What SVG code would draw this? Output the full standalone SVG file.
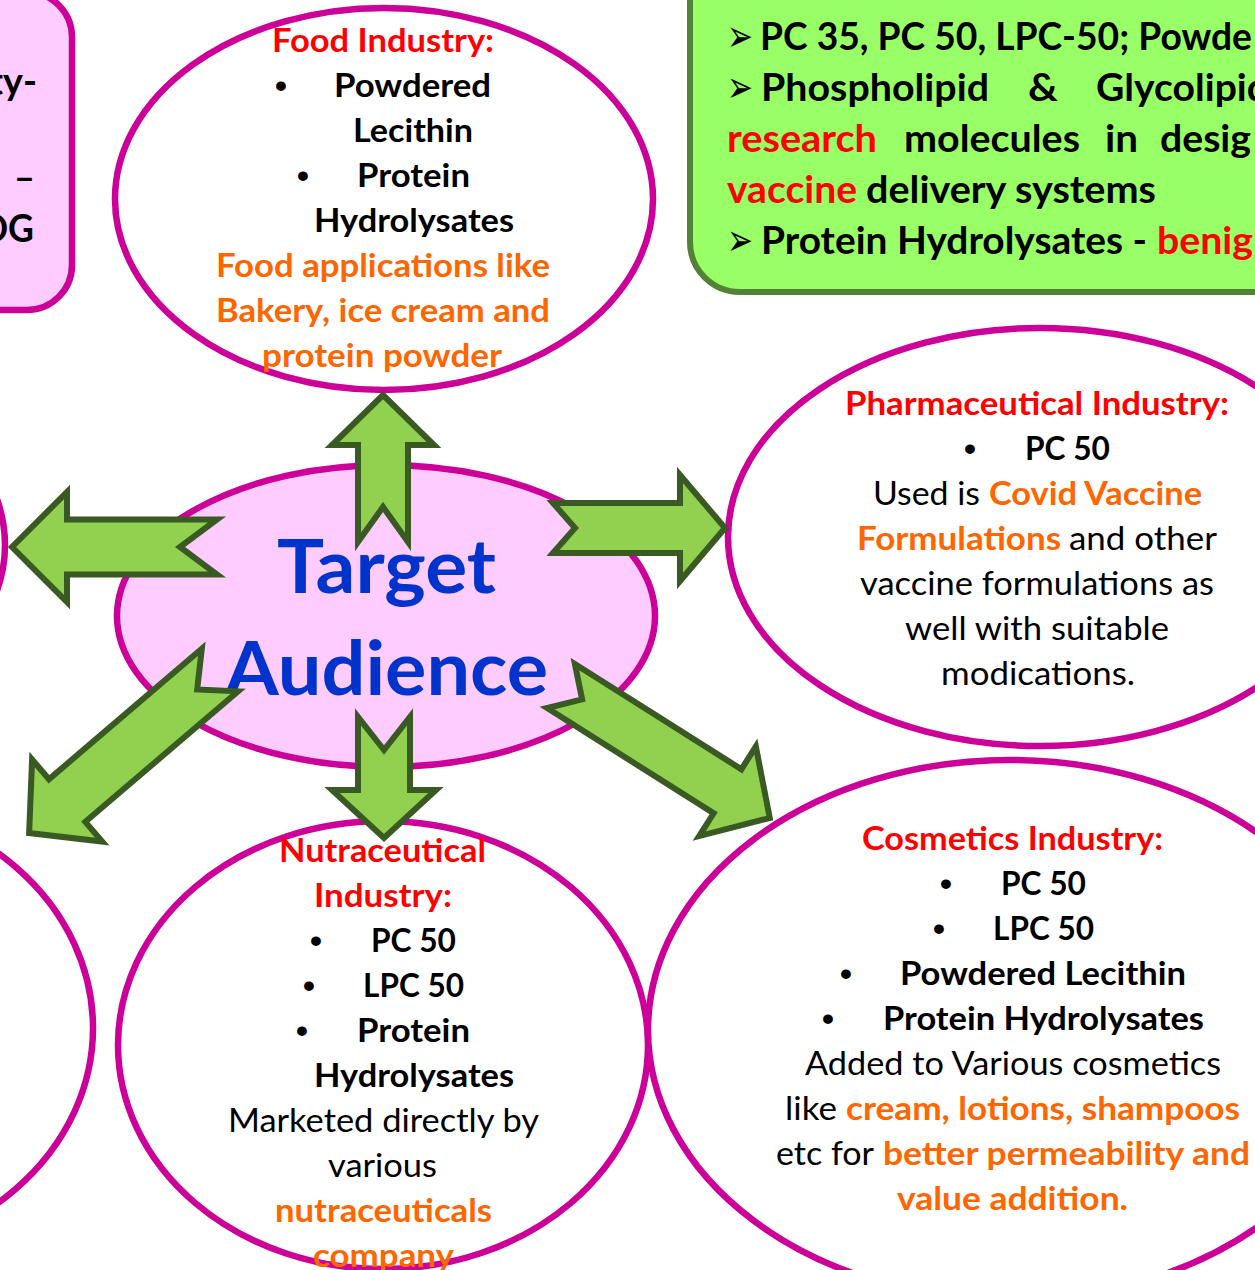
<svg xmlns="http://www.w3.org/2000/svg" width="1255" height="1270" viewBox="0 0 1255 1270">
<style>
.node{stroke:#CC0099;stroke-width:6.5}
.wf{fill:#FFFFFF}
.pf{fill:#FFCCFF}
.arrow{fill:#92D050;stroke:#3A5A24;stroke-width:6;stroke-linejoin:miter}
text{font-family:Lato,"Liberation Sans",sans-serif;font-size:33px;fill:#000}
.b{font-weight:700}
.red{fill:#FF0000}
.org{fill:#FF6600}
.blue{fill:#0033CC}
.big{font-size:38px;font-weight:700}
.sym{font-family:"DejaVu Sans",sans-serif;font-size:44px;font-weight:700}
.bul{font-family:"Liberation Sans",sans-serif;font-size:34px;font-weight:700;text-anchor:middle}
.hd{font-size:75px;font-weight:700}
</style>
<rect x="0" y="0" width="1255" height="1270" fill="#FFFFFF"/>

<g id="left-box">
<rect class="node pf" x="-200" y="-8" width="272" height="318" rx="45"/>
<text class="big" x="-11" y="95" textLength="48" lengthAdjust="spacingAndGlyphs">ty-</text>
<text class="big" x="14" y="191" textLength="21" lengthAdjust="spacingAndGlyphs">–</text>
<text class="big" x="-19" y="242" textLength="53" lengthAdjust="spacingAndGlyphs">DG</text>
</g>

<g id="left-mid-node">
<ellipse class="node wf" cx="-300" cy="545" rx="305" ry="200"/>
</g>

<g id="left-bottom-node">
<ellipse class="node wf" cx="-172" cy="1028" rx="265" ry="228"/>
</g>

<g id="food-industry">
<ellipse class="node wf" cx="384" cy="199" rx="269" ry="191"/>
<text class="b red" x="272" y="52" textLength="222" lengthAdjust="spacingAndGlyphs">Food Industry:</text>
<text class="bul" x="281" y="97">•</text>
<text class="b" x="334" y="97" textLength="157" lengthAdjust="spacingAndGlyphs">Powdered</text>
<text class="b" x="353" y="142" textLength="120" lengthAdjust="spacingAndGlyphs">Lecithin</text>
<text class="bul" x="303" y="187">•</text>
<text class="b" x="357" y="187" textLength="113" lengthAdjust="spacingAndGlyphs">Protein</text>
<text class="b" x="314" y="232" textLength="200" lengthAdjust="spacingAndGlyphs">Hydrolysates</text>
<text class="b org" x="216" y="277" textLength="334" lengthAdjust="spacingAndGlyphs">Food applications like</text>
<text class="b org" x="216" y="322" textLength="334" lengthAdjust="spacingAndGlyphs">Bakery, ice cream and</text>
<text class="b org" x="262" y="367" textLength="240" lengthAdjust="spacingAndGlyphs">protein powder</text>
</g>

<g id="info-box">
<rect x="690" y="-60" width="700" height="352" rx="50" fill="#99FF66" stroke="#538135" stroke-width="6"/>
<text class="sym" x="727" y="51" textLength="26" lengthAdjust="spacingAndGlyphs">➢</text>
<text class="big" x="760" y="50" textLength="492" lengthAdjust="spacingAndGlyphs">PC 35, PC 50, LPC-50; Powde</text>
<text class="sym" x="727" y="102" textLength="26" lengthAdjust="spacingAndGlyphs">➢</text>
<text class="big" x="761" y="101" textLength="228" lengthAdjust="spacingAndGlyphs">Phospholipid</text>
<text class="big" x="1028" y="101" textLength="30" lengthAdjust="spacingAndGlyphs">&amp;</text>
<text class="big" x="1096" y="101" textLength="173" lengthAdjust="spacingAndGlyphs">Glycolipid</text>
<text class="big red" x="727" y="152" textLength="150" lengthAdjust="spacingAndGlyphs">research</text>
<text class="big" x="904" y="152" textLength="176" lengthAdjust="spacingAndGlyphs">molecules</text>
<text class="big" x="1105" y="152" textLength="33" lengthAdjust="spacingAndGlyphs">in</text>
<text class="big" x="1160" y="152" textLength="91" lengthAdjust="spacingAndGlyphs">desig</text>
<text class="big red" x="727" y="203" textLength="130" lengthAdjust="spacingAndGlyphs">vaccine</text>
<text class="big" x="866" y="203" textLength="290" lengthAdjust="spacingAndGlyphs">delivery systems</text>
<text class="sym" x="727" y="255" textLength="26" lengthAdjust="spacingAndGlyphs">➢</text>
<text class="big" x="761" y="254" textLength="386" lengthAdjust="spacingAndGlyphs">Protein Hydrolysates -</text>
<text class="big red" x="1157" y="254" textLength="96" lengthAdjust="spacingAndGlyphs">benig</text>
</g>

<g id="target-audience">
<ellipse class="node pf" cx="386" cy="616" rx="269" ry="151"/>
<text class="hd blue" x="277" y="593" textLength="219" lengthAdjust="spacingAndGlyphs">Target</text>
<text class="hd blue" x="225" y="695" textLength="323" lengthAdjust="spacingAndGlyphs">Audience</text>
</g>

<g id="pharmaceutical-industry">
<ellipse class="node wf" cx="1040" cy="537" rx="312" ry="209"/>
<text class="b red" x="845" y="415" textLength="384" lengthAdjust="spacingAndGlyphs">Pharmaceutical Industry:</text>
<text class="bul" x="970" y="460">•</text>
<text class="b" x="1025" y="460" textLength="85" lengthAdjust="spacingAndGlyphs">PC 50</text>
<text x="873" y="505" textLength="107" lengthAdjust="spacingAndGlyphs">Used is</text>
<text class="b org" x="989" y="505" textLength="213" lengthAdjust="spacingAndGlyphs">Covid Vaccine</text>
<text class="b org" x="857" y="550" textLength="204" lengthAdjust="spacingAndGlyphs">Formulations</text>
<text x="1069" y="550" textLength="148" lengthAdjust="spacingAndGlyphs">and other</text>
<text x="860" y="595" textLength="354" lengthAdjust="spacingAndGlyphs">vaccine formulations as</text>
<text x="905" y="640" textLength="264" lengthAdjust="spacingAndGlyphs">well with suitable</text>
<text x="941" y="685" textLength="194" lengthAdjust="spacingAndGlyphs">modications.</text>
</g>

<g id="nutraceutical-industry">
<ellipse class="node wf" cx="383" cy="1045" rx="265" ry="224"/>
<text class="b red" x="279" y="862" textLength="207" lengthAdjust="spacingAndGlyphs">Nutraceutical</text>
<text class="b red" x="314" y="907" textLength="138" lengthAdjust="spacingAndGlyphs">Industry:</text>
<text class="bul" x="316" y="952">•</text>
<text class="b" x="371" y="952" textLength="85" lengthAdjust="spacingAndGlyphs">PC 50</text>
<text class="bul" x="309" y="997">•</text>
<text class="b" x="363" y="997" textLength="101" lengthAdjust="spacingAndGlyphs">LPC 50</text>
<text class="bul" x="302" y="1042">•</text>
<text class="b" x="357" y="1042" textLength="113" lengthAdjust="spacingAndGlyphs">Protein</text>
<text class="b" x="314" y="1087" textLength="200" lengthAdjust="spacingAndGlyphs">Hydrolysates</text>
<text x="228" y="1132" textLength="311" lengthAdjust="spacingAndGlyphs">Marketed directly by</text>
<text x="328" y="1177" textLength="109" lengthAdjust="spacingAndGlyphs">various</text>
<text class="b org" x="275" y="1222" textLength="217" lengthAdjust="spacingAndGlyphs">nutraceuticals</text>
<text class="b org" x="313" y="1267" textLength="141" lengthAdjust="spacingAndGlyphs">company</text>
</g>

<g id="cosmetics-industry">
<ellipse class="node wf" cx="1010" cy="1030" rx="362" ry="270"/>
<text class="b red" x="862" y="850" textLength="301" lengthAdjust="spacingAndGlyphs">Cosmetics Industry:</text>
<text class="bul" x="946" y="895">•</text>
<text class="b" x="1001" y="895" textLength="85" lengthAdjust="spacingAndGlyphs">PC 50</text>
<text class="bul" x="939" y="940">•</text>
<text class="b" x="993" y="940" textLength="101" lengthAdjust="spacingAndGlyphs">LPC 50</text>
<text class="bul" x="846" y="985">•</text>
<text class="b" x="900" y="985" textLength="286" lengthAdjust="spacingAndGlyphs">Powdered Lecithin</text>
<text class="bul" x="828" y="1030">•</text>
<text class="b" x="883" y="1030" textLength="321" lengthAdjust="spacingAndGlyphs">Protein Hydrolysates</text>
<text x="805" y="1075" textLength="416" lengthAdjust="spacingAndGlyphs">Added to Various cosmetics</text>
<text x="785" y="1120" textLength="52" lengthAdjust="spacingAndGlyphs">like</text>
<text class="b org" x="846" y="1120" textLength="394" lengthAdjust="spacingAndGlyphs">cream, lotions, shampoos</text>
<text x="776" y="1165" textLength="98" lengthAdjust="spacingAndGlyphs">etc for</text>
<text class="b org" x="883" y="1165" textLength="367" lengthAdjust="spacingAndGlyphs">better permeability and</text>
<text class="b org" x="897" y="1210" textLength="231" lengthAdjust="spacingAndGlyphs">value addition.</text>
</g>

<g id="connectors">
<path class="arrow" transform="translate(383,542) rotate(-90)" d="M0,-25 L97,-25 L97,-51 L147,0 L97,51 L97,25 L0,25 L35,0 Z"/>
<path class="arrow" transform="translate(217,547) rotate(180)" d="M0,-27.5 L150,-27.5 L150,-55 L205,0 L150,55 L150,27.5 L0,27.5 L37,0 Z"/>
<path class="arrow" transform="translate(384,717) rotate(90)" d="M0,-26 L73,-26 L73,-52 L121,0 L73,52 L73,26 L0,26 L33,0 Z"/>
<path class="arrow" transform="translate(553,528)" d="M0,-25 L127,-25 L127,-53 L172,0 L127,53 L127,25 L0,25 L22,0 Z"/>
<path class="arrow" transform="translate(561,686) rotate(32.3)" d="M0,-26 L197,-26 L197,-53 L247,0 L197,53 L197,26 L0,26 L25,0 Z"/>
<path class="arrow" transform="translate(220,670) rotate(139.5)" d="M0,-28 L201,-28 L201,-54 L251,0 L201,54 L201,28 L0,28 L30,0 Z"/>
</g>
</svg>
